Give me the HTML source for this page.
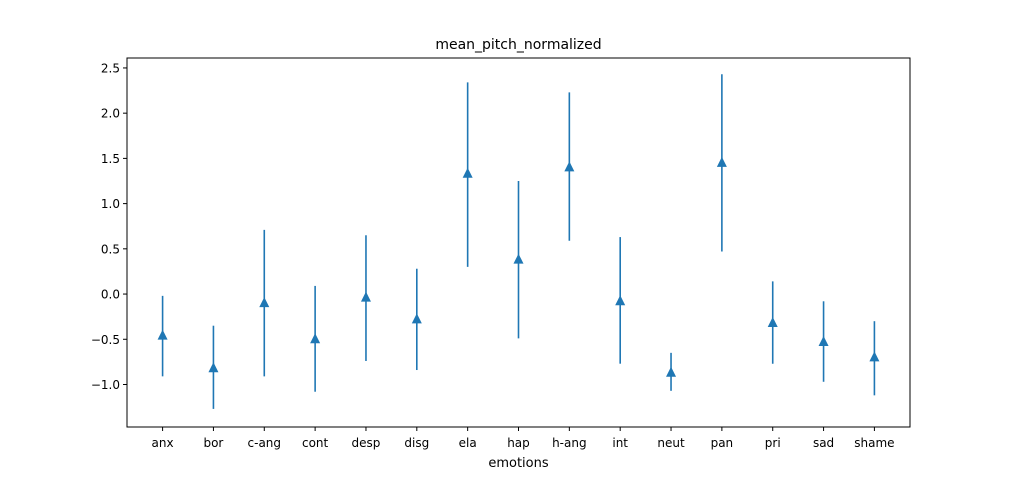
<!DOCTYPE html>
<html><head><meta charset="utf-8"><style>
body{margin:0;background:#fff;}
svg text{font-family:"DejaVu Sans","Liberation Sans",sans-serif;fill:#000;}
</style></head><body>
<svg id="chart" width="1011" height="480"></svg>
<script>
const categories=["anx","bor","c-ang","cont","desp","disg","ela","hap","h-ang","int","neut","pan","pri","sad","shame"];
const means=[-0.46,-0.82,-0.10,-0.50,-0.04,-0.28,1.33,0.38,1.40,-0.08,-0.87,1.45,-0.32,-0.53,-0.70];
const upper=[-0.02,-0.35,0.71,0.09,0.65,0.28,2.34,1.25,2.23,0.63,-0.65,2.43,0.14,-0.08,-0.30];
const lower=[-0.91,-1.27,-0.91,-1.08,-0.74,-0.84,0.30,-0.49,0.59,-0.77,-1.07,0.47,-0.77,-0.97,-1.12];
const yTicks=[-1.0,-0.5,0.0,0.5,1.0,1.5,2.0,2.5];
const yTickLabels=["\u22121.0","\u22120.5","0.0","0.5","1.0","1.5","2.0","2.5"];

const NS="http://www.w3.org/2000/svg";
const svg=document.getElementById('chart');
const L=127,R=910,T=58,B=427,yMin=-1.47,yMax=2.61;
const n=categories.length;
const xs=i=>L+(i+0.7)/(n-1+1.4)*(R-L);
const ys=v=>B-(v-yMin)/(yMax-yMin)*(B-T);
function mk(tag,attrs){const e=document.createElementNS(NS,tag);for(const k in attrs)e.setAttribute(k,attrs[k]);svg.appendChild(e);return e;}

let e=mk('rect',{x:L,y:T,width:R-L,height:B-T,fill:'none',stroke:'#000','stroke-width':1});



e=mk('text',{x:(L+R)/2,y:49,'text-anchor':'middle','font-size':14});e.textContent='mean_pitch_normalized';



e=mk('text',{x:(L+R)/2,y:467,'text-anchor':'middle','font-size':13});e.textContent='emotions';



yTicks.forEach((v,i)=>{
  const y=ys(v);
  let t=mk('line',{x1:L-4,x2:L,y1:y,y2:y,stroke:'#000','stroke-width':1});
  
  
  let l=mk('text',{x:L-7,y:y+4.5,'text-anchor':'end','font-size':12});l.textContent=yTickLabels[i];
  
  
});

categories.forEach((c,i)=>{
  const x=xs(i);
  let t=mk('line',{x1:x,x2:x,y1:B,y2:B+4,stroke:'#000','stroke-width':1});
  
  
  let l=mk('text',{x:x,y:B+20,'text-anchor':'middle','font-size':12});l.textContent=c;
  
  
  let b=mk('line',{x1:x,x2:x,y1:ys(upper[i]),y2:ys(lower[i]),stroke:'#1f77b4','stroke-width':1.6});
  
  
  const y=ys(means[i]);
  let m=mk('polygon',{points:`${x},${y-6} ${x-5},${y+4} ${x+5},${y+4}`,fill:'#1f77b4'});
  
  
});
</script>
</body></html>
